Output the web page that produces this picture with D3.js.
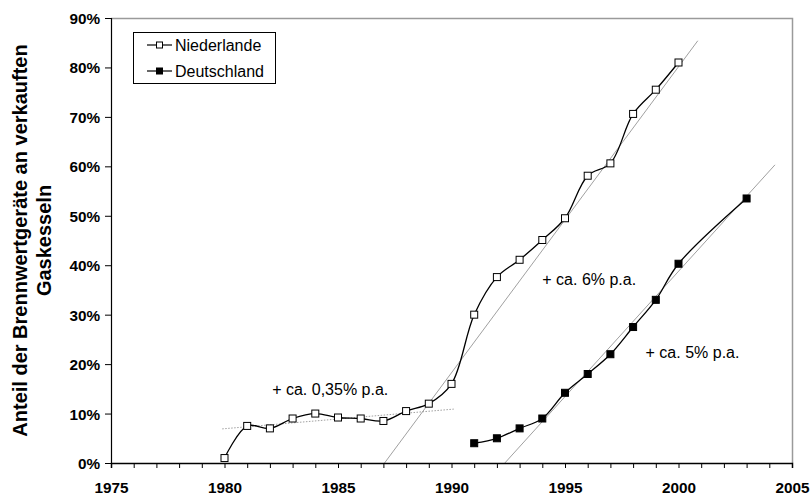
<!DOCTYPE html>
<html>
<head>
<meta charset="utf-8">
<script src="https://cdn.jsdelivr.net/npm/d3@7"></script>
<style>
  html, body { margin: 0; padding: 0; background: #fff; }
  svg { display: block; font-family: "Liberation Sans", Arial, sans-serif; }
</style>
</head>
<body>
<svg id="chart" width="811" height="496"></svg>
<script>
// Share of condensing boilers in gas boiler sales
const yearsNL = [1980, 1981, 1982, 1983, 1984, 1985, 1986, 1987, 1988, 1989, 1990,
                 1991, 1992, 1993, 1994, 1995, 1996, 1997, 1998, 1999, 2000];
const valuesNL = [1.0, 7.5, 7.0, 9.0, 10.0, 9.2, 9.0, 8.5, 10.5, 12.0, 16.0,
                  30.0, 37.6, 41.1, 45.1, 49.5, 58.1, 60.6, 70.6, 75.5, 81.0];
const yearsDE = [1991, 1992, 1993, 1994, 1995, 1996, 1997, 1998, 1999, 2000, 2003];
const valuesDE = [4.0, 5.0, 7.0, 9.0, 14.2, 18.0, 22.0, 27.5, 33.0, 40.3, 53.5];

// Trend lines: [startYear, startValue, endYear, endValue]
const trendFlat = [1979.9, 6.9, 1990.1, 10.9];
const trendNL = [1987.05, 0, 2000.85, 85.4];
const trendDE = [1992.35, 0, 2004.25, 60.3];

const xTicks = [1975, 1980, 1985, 1990, 1995, 2000, 2005];
const yTicks = [0, 10, 20, 30, 40, 50, 60, 70, 80, 90];

const annotations = [
  { text: "+ ca. 0,35% p.a.", year: 1982.1, value: 13.8 },
  { text: "+ ca. 6% p.a.", year: 1994.0, value: 36.0 },
  { text: "+ ca. 5% p.a.", year: 1998.55, value: 21.3 }
];

const svg = d3.select("#chart");
const margin = { left: 111, right: 19, top: 18, bottom: 33 };
const W = 811, H = 496;
const FONT = "Liberation Sans, Arial, sans-serif";

const x = d3.scaleLinear().domain([1975, 2005]).range([margin.left, W - margin.right]);
const y = d3.scaleLinear().domain([0, 90]).range([H - margin.bottom, margin.top]);

// Plot frame: grey top and right edges
svg.append("path")
  .attr("d", `M${x(1975)},${y(90) + 0.5}H${x(2005) + 0.5}V${y(0)}`)
  .attr("fill", "none").attr("stroke", "#9a9a9a").attr("stroke-width", 1.5);

// Trend lines
function trendLine(t, dash) {
  svg.append("line")
    .attr("x1", x(t[0])).attr("y1", y(t[1]))
    .attr("x2", x(t[2])).attr("y2", y(t[3]))
    .attr("stroke", "#888").attr("stroke-width", 0.8)
    .attr("stroke-dasharray", dash || null);
}
trendLine(trendFlat, "1.5,1.5");
trendLine(trendNL);
trendLine(trendDE);

// Y axis
const yAxis = svg.append("g")
  .attr("transform", `translate(${x(1975)},0)`)
  .call(d3.axisLeft(y).tickValues(yTicks).tickSize(6).tickFormat(d => d + "%"));
yAxis.select(".domain").attr("stroke", "#000").attr("stroke-width", 1.2);
yAxis.selectAll(".tick line").attr("stroke", "#000");
yAxis.selectAll("text").attr("font-size", 15.3).attr("font-weight", "bold")
  .attr("font-family", FONT).attr("fill", "#000").attr("x", -11).attr("dy", "0.36em");

// X axis: minor ticks each year, labels every five years
const xAxis = svg.append("g")
  .attr("transform", `translate(0,${y(0)})`)
  .call(d3.axisBottom(x).tickValues(d3.range(1975, 2006)).tickSize(5)
    .tickFormat(d => xTicks.includes(d) ? d : ""));
xAxis.select(".domain").attr("stroke", "#000").attr("stroke-width", 1.5);
xAxis.selectAll(".tick line").attr("stroke", "#000");
xAxis.selectAll("text").attr("font-size", 15.3).attr("font-weight", "bold")
  .attr("font-family", FONT).attr("fill", "#000").attr("y", 30).attr("dy", null);

// Y axis title (two lines)
const title = svg.append("text")
  .attr("transform", `translate(27,${(y(0) + y(90)) / 2}) rotate(-90)`)
  .attr("text-anchor", "middle").attr("font-size", 20).attr("font-weight", "bold")
  .attr("font-family", FONT).attr("fill", "#000");
title.append("tspan").attr("x", 0).attr("y", 0).text("Anteil der Brennwertgeräte an verkauften");
title.append("tspan").attr("x", 0).attr("y", 24).text("Gaskesseln");

// Series lines
const line = d3.line().x(d => x(d[0])).y(d => y(d[1])).curve(d3.curveCatmullRom.alpha(0.5));
const nl = yearsNL.map((yr, i) => [yr, valuesNL[i]]);
const de = yearsDE.map((yr, i) => [yr, valuesDE[i]]);

svg.append("path").datum(nl).attr("d", line)
  .attr("fill", "none").attr("stroke", "#000").attr("stroke-width", 1.3);
svg.append("path").datum(de).attr("d", line)
  .attr("fill", "none").attr("stroke", "#000").attr("stroke-width", 1.3);

const ms = 7;
svg.append("g").selectAll("rect").data(nl).join("rect")
  .attr("x", d => x(d[0]) - ms / 2).attr("y", d => y(d[1]) - ms / 2)
  .attr("width", ms).attr("height", ms)
  .attr("fill", "#fff").attr("stroke", "#000").attr("stroke-width", 1);
svg.append("g").selectAll("rect").data(de).join("rect")
  .attr("x", d => x(d[0]) - ms / 2).attr("y", d => y(d[1]) - ms / 2)
  .attr("width", ms).attr("height", ms)
  .attr("fill", "#000").attr("stroke", "#000").attr("stroke-width", 1);

// Annotations
svg.append("g").selectAll("text").data(annotations).join("text")
  .attr("x", d => x(d.year)).attr("y", d => y(d.value))
  .attr("font-size", 16).attr("font-family", FONT).attr("fill", "#000").text(d => d.text);

// Legend
const lg = svg.append("g");
lg.append("rect").attr("x", 133.5).attr("y", 32.5).attr("width", 142).attr("height", 51)
  .attr("fill", "#fff").attr("stroke", "#000").attr("stroke-width", 1);
const legendItems = [
  { name: "Niederlande", fill: "#fff", cy: 45 },
  { name: "Deutschland", fill: "#000", cy: 71 }
];
legendItems.forEach(it => {
  lg.append("line").attr("x1", 147).attr("x2", 172).attr("y1", it.cy).attr("y2", it.cy)
    .attr("stroke", "#000").attr("stroke-width", 1.2);
  lg.append("rect").attr("x", 159.5 - 3).attr("y", it.cy - 3).attr("width", 6).attr("height", 6)
    .attr("fill", it.fill).attr("stroke", "#000").attr("stroke-width", 1);
  lg.append("text").attr("x", 175).attr("y", it.cy + 6).attr("font-size", 16)
    .attr("font-family", FONT).attr("fill", "#000").text(it.name);
});
</script>
</body>
</html>
